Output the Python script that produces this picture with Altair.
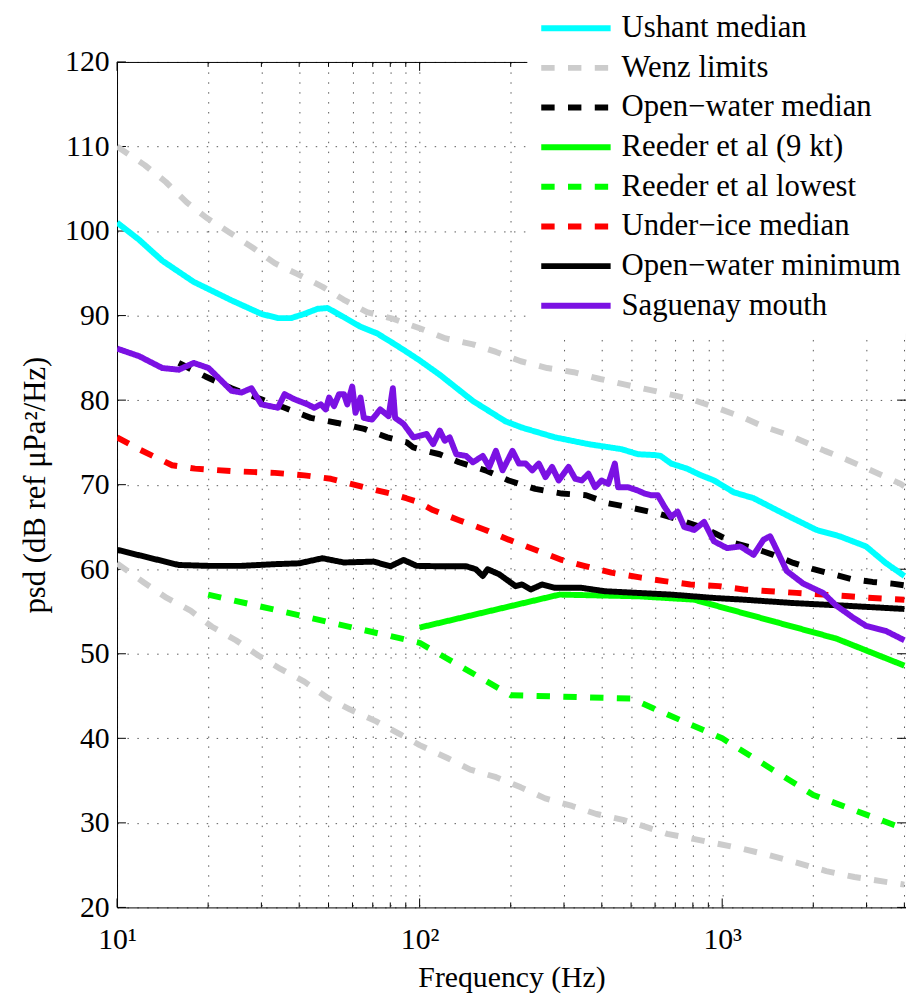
import altair as alt
import pandas as pd

# ---------------- data ----------------
series_names = [
    "Ushant median",
    "Wenz limits",
    "Open\u2212water median",
    "Reeder et al (9 kt)",
    "Reeder et al lowest",
    "Under\u2212ice median",
    "Open\u2212water minimum",
    "Saguenay mouth",
]
series_colors = ["#00FFFF", "#CCCCCC", "#000000", "#00FF00",
                 "#00FF00", "#FF0000", "#000000", "#7B11E3"]
series_dashes = [[1, 0], [13.5, 13.5], [13.5, 13.5], [1, 0],
                 [13.5, 13.5], [13.5, 13.5], [1, 0], [1, 0]]

ushant_f = [10, 11.8, 14.1, 17.9, 23.9, 30, 34, 37.6, 41.6, 46, 49.6, 55, 63.6,
            72.3, 82, 90.7, 100, 116.6, 150, 192, 218, 280, 361, 465, 527, 600,
            626, 678, 765, 840, 940, 1092, 1270, 1476, 1718, 2048, 2443, 2987,
            3470, 4000]
ushant_db = [101.0, 99.0, 96.5, 94.0, 91.8, 90.2, 89.7, 89.7, 90.2, 90.8, 90.9,
             90.0, 88.7, 87.9, 86.7, 85.7, 84.7, 83.0, 79.9, 77.5, 76.75, 75.6,
             74.8, 74.2, 73.6, 73.5, 73.4, 72.5, 71.9, 71.2, 70.5, 69.1, 68.4,
             67.2, 66.0, 64.65, 63.9, 62.7, 60.75, 59.2]

wenz_hi_f = [10, 12.35, 14.5, 17, 19.7, 23.6, 28.2, 33.2, 39.5, 47.8, 56, 67, 82,
             100, 122, 150, 179, 216, 264, 323, 395, 483, 669, 807, 975, 1163,
             1388, 1653, 2182, 2603, 3099, 3888, 4000]
wenz_hi_db = [110.0, 107.8, 105.8, 103.4, 101.6, 99.8, 98.0, 96.2, 94.9, 93.4,
              91.9, 90.4, 89.6, 88.5, 87.3, 86.6, 85.7, 84.6, 83.8, 83.3, 82.5,
              81.8, 80.7, 80.0, 79.0, 78.0, 76.8, 75.9, 74.0, 72.9, 71.7, 70.1,
              69.8]

wenz_lo_f = [10, 12.3, 14.6, 17.5, 20.6, 24.7, 29.3, 34.7, 41.6, 49.6, 59, 71.9,
             86, 100, 123, 147, 179, 216, 260, 319, 384, 470, 540, 658, 803, 975,
             1178, 1422, 1761, 2208, 2735, 3430, 4000]
wenz_lo_db = [60.7, 58.4, 56.6, 55.1, 53.2, 51.6, 49.8, 48.2, 46.7, 44.8, 43.4,
              42.0, 40.5, 39.2, 37.7, 36.3, 35.4, 34.2, 32.9, 32.0, 31.05, 30.35,
              29.7, 28.7, 28.1, 27.5, 26.9, 26.2, 25.3, 24.3, 23.6, 23.05, 22.7]

ow_median_f = [16, 19.6, 23.9, 30, 35.8, 43.7, 53.5, 65.6, 78.2, 90.7, 95.3, 105,
               116.5, 135, 165, 197, 241, 295, 355, 420, 512, 612, 730, 870, 940,
               1092, 1270, 1476, 1718, 2003, 2327, 2703, 3141, 3650, 4000]
ow_median_db = [84.4, 82.8, 81.4, 80.1, 79.1, 77.9, 77.3, 76.6, 75.6, 75.0, 74.4,
                74.0, 73.6, 72.65, 71.7, 70.5, 69.5, 68.95, 68.75, 67.8, 67.2,
                66.6, 65.8, 64.85, 64.3, 63.1, 62.5, 61.7, 60.75, 60.0, 59.4,
                58.8, 58.5, 58.3, 58.1]

reeder9_f = [100, 290, 527, 807, 2382, 4000]
reeder9_db = [53.1, 57.0, 56.8, 56.4, 51.8, 48.6]

reeder_low_f = [20, 100, 200, 500, 1000, 2000, 4000]
reeder_low_db = [57.0, 51.3, 45.1, 44.7, 40.0, 33.3, 29.3]

ice_f = [10, 11.8, 15.2, 18.1, 23.9, 33.2, 41.6, 50.9, 65.6, 80.1, 90.3, 97.8,
         110.6, 135, 165, 197, 241, 295, 355, 430, 540, 644, 785, 975, 1178,
         1440, 1761, 2155, 2625, 3141, 4000]
ice_db = [75.6, 74.2, 72.3, 71.9, 71.6, 71.4, 71.1, 70.7, 69.7, 68.95, 68.4, 68.0,
          67.0, 65.8, 64.65, 63.5, 62.3, 61.1, 60.35, 59.6, 59.0, 58.6, 58.2,
          58.0, 57.6, 57.4, 57.2, 57.0, 56.8, 56.6, 56.4]

ow_min_f = [10, 16, 20, 25.8, 33.2, 40, 47.7, 56.2, 70.5, 80.1, 88.5, 97.8, 116.5,
            142.5, 153.4, 161.7, 167.8, 183.3, 207.6, 218, 233, 254, 280, 343,
            409, 526, 679, 940, 1178, 1718, 2510, 4000]
ow_min_db = [62.3, 60.5, 60.4, 60.4, 60.6, 60.7, 61.3, 60.8, 60.9, 60.35, 61.1,
             60.4, 60.35, 60.35, 60.0, 59.2, 60.0, 59.4, 58.0, 58.2, 57.6, 58.2,
             57.8, 57.8, 57.4, 57.2, 57.0, 56.6, 56.4, 56.0, 55.7, 55.3]

sag_f = [10, 11.83, 14.11, 16.0, 17.92, 20.06, 23.91, 25.78, 27.81, 29.99, 34.01,
         35.78, 38.59, 42.65, 44.85, 47.14, 48.95, 50.23, 52.15, 54.16, 56.24,
         57.67, 59.89, 61.4, 63.76, 65.41, 69.62, 74.13, 78.98, 81.58, 83.0,
         88.44, 95.37, 100.2, 105.4, 110.9, 116.6, 121.1, 125.7, 132.2, 142.5,
         150, 161.7, 169.9, 178.7, 188.0, 202.7, 213.0, 224.1, 235.7, 247.7,
         260.6, 274.1, 288.1, 310.7, 326.8, 343.8, 361.3, 379.9, 399.6, 420.1,
         441.9, 453.0, 488.5, 526.9, 554.2, 582.9, 612.6, 644.4, 677.7, 712.3,
         749.3, 808.0, 871.2, 939.5, 1038, 1148, 1270, 1370, 1440, 1514, 1633,
         1853, 2155, 2382, 2703, 2988, 3474, 4000]
sag_db = [86.1, 85.2, 83.8, 83.6, 84.4, 83.8, 81.1, 80.9, 81.4, 79.5, 79.1, 80.7,
          80.1, 79.5, 79.1, 79.5, 78.9, 80.3, 79.3, 80.7, 80.7, 79.5, 81.6, 78.5,
          80.3, 77.9, 77.7, 78.9, 78.1, 81.4, 77.9, 77.2, 75.6, 75.8, 76.0, 74.8,
          76.4, 75.2, 75.6, 73.6, 73.4, 72.65, 73.4, 72.1, 74.0, 71.7, 74.0,
          72.5, 72.5, 71.7, 72.5, 70.9, 72.1, 70.5, 72.1, 70.7, 70.5, 71.3, 69.7,
          70.5, 70.1, 72.5, 69.7, 69.7, 69.3, 68.95, 68.75, 68.75, 67.4, 66.2,
          66.8, 65.0, 64.65, 65.6, 63.3, 62.5, 62.7, 61.7, 63.5, 63.9, 62.3, 59.8,
          58.3, 57.2, 55.7, 54.3, 53.3, 52.7, 51.6]

x_minor_ticks = [20, 30, 40, 50, 60, 70, 80, 90, 200, 300, 400, 500, 600, 700,
                 800, 900, 2000, 3000, 4000]
x_major_ticks = [10, 100, 1000]
y_ticks = [20, 30, 40, 50, 60, 70, 80, 90, 100, 110, 120]

# ---------------- build table ----------------
curves = [
    (series_names[0], "ushant", ushant_f, ushant_db),
    (series_names[1], "wenz_hi", wenz_hi_f, wenz_hi_db),
    (series_names[1], "wenz_lo", wenz_lo_f, wenz_lo_db),
    (series_names[2], "ow_median", ow_median_f, ow_median_db),
    (series_names[3], "reeder9", reeder9_f, reeder9_db),
    (series_names[4], "reeder_low", reeder_low_f, reeder_low_db),
    (series_names[5], "ice", ice_f, ice_db),
    (series_names[6], "ow_min", ow_min_f, ow_min_db),
    (series_names[7], "sag", sag_f, sag_db),
]
rows = []
for name, cid, fs, vs in curves:
    for i, (f, v) in enumerate(zip(fs, vs)):
        rows.append({"series": name, "curve": cid, "f": f, "psd": v, "i": i})
df = pd.DataFrame(rows)

W, H = 796, 853
FONT = "Liberation Serif"
x_domain = [10, 4050]
y_domain = [20, 120]

x_scale = alt.Scale(type="log", domain=x_domain, nice=False)
y_scale = alt.Scale(domain=y_domain, nice=False, zero=False)

all_x_ticks = sorted(x_major_ticks + x_minor_ticks)
label_expr = ("datum.value == 10 ? '10\u00b9' : datum.value == 100 ? '10\u00b2' : "
              "datum.value == 1000 ? '10\u00b3' : ''")

legend = alt.Legend(
    orient="none", legendX=414, legendY=-61, title=None,
    symbolType="stroke", symbolSize=4900, symbolStrokeWidth=6,
    labelFont=FONT, labelFontSize=31, labelColor="black", labelOffset=8,
    labelLimit=500, clipHeight=32, rowPadding=8, padding=11,
    fillColor="white", strokeColor="white",
)

lines = alt.Chart(df).mark_line(strokeWidth=6, clip=True, strokeJoin="round").encode(
    x=alt.X("f:Q", scale=x_scale,
            axis=alt.Axis(values=all_x_ticks, labelExpr=label_expr, grid=True,
                          ticks=False, domain=False, labelFont=FONT,
                          labelFontSize=30, labelColor="black", labelPadding=17,
                          labelFlush=False, labelOverlap=False,
                          title="Frequency (Hz)", titleFont=FONT, titleFontSize=30,
                          titleFontWeight="normal", titleColor="black",
                          titlePadding=9)),
    y=alt.Y("psd:Q", scale=y_scale,
            axis=alt.Axis(values=y_ticks, grid=True, ticks=False, domain=False,
                          labelFont=FONT, labelFontSize=30, labelColor="black",
                          labelPadding=8, title="psd (dB ref \u03bcPa\u00b2/Hz)",
                          titleFont=FONT, titleFontSize=31,
                          titleFontWeight="normal", titleColor="black",
                          titlePadding=13)),
    color=alt.Color("series:N", scale=alt.Scale(domain=series_names, range=series_colors),
                    legend=legend),
    strokeDash=alt.StrokeDash("series:N",
                              scale=alt.Scale(domain=series_names, range=series_dashes),
                              legend=legend),
    detail="curve:N",
    order="i:Q",
)

xt_major = pd.DataFrame({"f": x_major_ticks})
xt_minor = pd.DataFrame({"f": x_minor_ticks})
yt = pd.DataFrame({"psd": y_ticks})

def xticks(data, length):
    base = alt.Chart(data).mark_rule(color="black", strokeWidth=1)
    bottom = base.encode(x=alt.X("f:Q", scale=x_scale), y=alt.value(H - length), y2=alt.value(H))
    top = base.encode(x=alt.X("f:Q", scale=x_scale), y=alt.value(0), y2=alt.value(length))
    return [bottom, top]

left = alt.Chart(yt).mark_rule(color="black", strokeWidth=1).encode(
    y=alt.Y("psd:Q", scale=y_scale), x=alt.value(0), x2=alt.value(9))
right = alt.Chart(yt).mark_rule(color="black", strokeWidth=1).encode(
    y=alt.Y("psd:Q", scale=y_scale), x=alt.value(W - 9), x2=alt.value(W))

chart = alt.layer(
    *xticks(xt_major, 9), *xticks(xt_minor, 5), left, right, lines
).properties(
    width=W, height=H,
    autosize=alt.AutoSizeParams(type="none"),
    padding={"left": 110, "top": 50, "right": 0, "bottom": 92},
    background="white",
).configure_view(
    stroke="black", strokeWidth=1
).configure_axis(
    gridColor="#000000", gridOpacity=0.65, gridWidth=1, gridDash=[1.5, 8.5]
)

chart.save("out.html", embed_options={"renderer": "svg", "actions": False})
